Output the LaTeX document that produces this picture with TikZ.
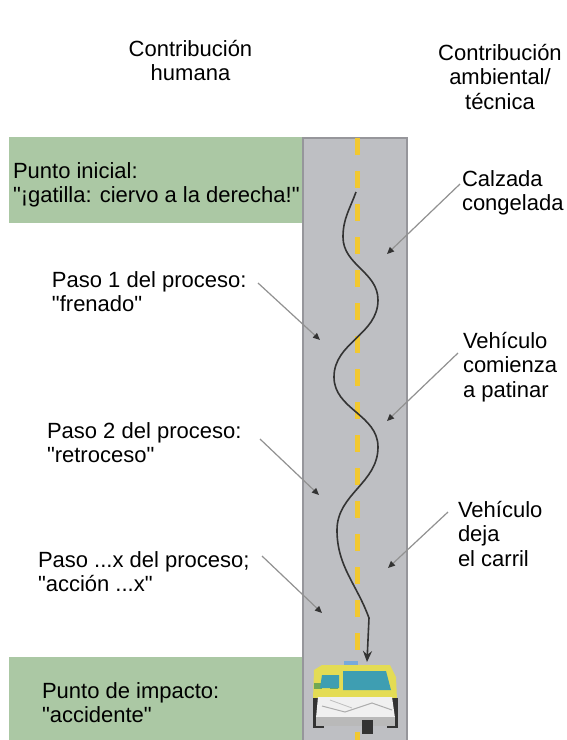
\documentclass[tikz,border=0pt]{standalone}
\usepackage{fontspec}
\setmainfont{Liberation Sans}[Ligatures=TeXOff]
\usetikzlibrary{arrows.meta}
\definecolor{roadgray}{RGB}{190,191,195}
\definecolor{roadedge}{RGB}{150,150,155}
\definecolor{boxgreen}{RGB}{171,200,164}
\definecolor{laneyellow}{RGB}{242,200,48}
\definecolor{leadgray}{RGB}{145,145,145}
\definecolor{carYellow}{RGB}{228,220,84}
\definecolor{carGreen}{RGB}{112,168,84}
\definecolor{carTeal}{RGB}{62,158,178}
\definecolor{carBlue}{RGB}{120,170,220}
\newcommand\Ltxt[1]{\vtop{\tabskip=0pt\halign{##\hfil\cr#1\crcr}}}
\newcommand\Ctxt[1]{\vtop{\tabskip=0pt\halign{\hfil##\hfil\cr#1\crcr}}}
\begin{document}
\begin{tikzpicture}[x=1pt,y=1pt,
  lbl/.style={inner sep=0pt, outer sep=0pt, font=\fontsize{22}{24.5}\selectfont, anchor=base west},
  hdr/.style={lbl, anchor=base},
  lead/.style={draw=leadgray, line width=1.2pt, -{Triangle[length=7pt,width=6pt,color=black!80]}},
  skid/.style={draw=black!80, line width=1.6pt, -{Stealth[length=11pt,width=9pt]}}
]
\useasboundingbox (0,0) rectangle (566,-740);
\fill[white] (0,0) rectangle (566,-740);

% green boxes
\fill[boxgreen] (9,-137) rectangle (302,-223);
\fill[boxgreen] (9,-657) rectangle (302,-740);

% road
\fill[roadgray] (302,-137) rectangle (408,-742);
\draw[roadedge, line width=2pt] (303,-742) -- (303,-138) -- (407,-138) -- (407,-742);
\draw[laneyellow, line width=5pt, dash pattern=on 16.5pt off 16.5pt] (357.5,-138) -- (357.5,-740);

% headers
\node[hdr] (hh) at (190.5,-56) {\Ctxt{Contribución\cr humana}};
\node[hdr] (ha) at (500,-60) {\Ctxt{Contribución\cr ambiental/\cr técnica}};

% labels
\node[lbl] (pi) at (13,-178) {\Ltxt{Punto inicial:\cr "¡gatilla: ciervo a la derecha!"}};
\node[lbl] (cc) at (462,-186) {\Ltxt{Calzada\cr congelada}};
\node[lbl] (p1) at (52,-287) {\Ltxt{Paso 1 del proceso:\cr "frenado"}};
\node[lbl] (vc) at (463,-348) {\Ltxt{Vehículo\cr comienza\cr a patinar}};
\node[lbl] (p2) at (47,-438) {\Ltxt{Paso 2 del proceso:\cr "retroceso"}};
\node[lbl] (vd) at (458,-517) {\Ltxt{Vehículo\cr deja\cr el carril}};
\node[lbl] (px) at (38,-567) {\Ltxt{Paso ...x del proceso;\cr "acción ...x"}};
\node[lbl] (pc) at (42,-698) {\Ltxt{Punto de impacto:\cr "accidente"}};

% leader coordinates
\coordinate (a1s) at (460,-184); \coordinate (a1t) at (387,-254);
\coordinate (a2s) at (258,-283); \coordinate (a2t) at (320,-340);
\coordinate (a3s) at (458,-353); \coordinate (a3t) at (387,-421);
\coordinate (a4s) at (260,-439); \coordinate (a4t) at (319,-495);
\coordinate (a5s) at (448,-512); \coordinate (a5t) at (388,-568);
\coordinate (a6s) at (262,-556); \coordinate (a6t) at (322,-613);
\draw[lead] (a1s) -- (a1t);
\draw[lead] (a2s) -- (a2t);
\draw[lead] (a3s) -- (a3t);
\draw[lead] (a4s) -- (a4t);
\draw[lead] (a5s) -- (a5t);
\draw[lead] (a6s) -- (a6t);

% skid path
\coordinate (s0) at (356,-192);
\coordinate (s1) at (343,-237);
\coordinate (s2) at (378,-300);
\coordinate (s3) at (334,-377);
\coordinate (s4) at (378,-447);
\coordinate (s5) at (337,-530);
\coordinate (s6) at (369,-618);
\coordinate (s7) at (367,-662);
\draw[skid] (s0) to[out=-110,in=90] (s1) to[out=-90,in=90] (s2)
  to[out=-90,in=90] (s3) to[out=-90,in=90] (s4) to[out=-90,in=90] (s5)
  to[out=-90,in=110] (s6) -- (s7);

% crashed car
\fill[carBlue] (344,-661) rectangle (358,-666);
\fill[carYellow] (314,-670) -- (322,-665) -- (390,-665) -- (396,-677) -- (397,-700) -- (313,-700) -- cycle;
\foreach \i in {0,...,9}{
  \pgfmathsetmacro\xx{314+8*\i}
  \ifodd\i \fill[carYellow] (\xx,-683) rectangle ++(8,-6);
  \else \fill[carGreen] (\xx,-683) rectangle ++(8,-6); \fi
}
\fill[carTeal] (343,-671) -- (386,-671) -- (391,-690) -- (343,-690) -- cycle;
\fill[carTeal] (322,-675) -- (339,-675) -- (339,-688) -- (320,-688) -- cycle;
\fill[black!80] (313,-698) rectangle (324,-728);
\fill[black!80] (387,-698) rectangle (398,-728);
\fill[gray!12] (318,-697) -- (392,-697) -- (395,-718) -- (316,-718) -- cycle;
\draw[gray!65, line width=1pt] (322,-706) -- (345,-712) -- (372,-703) -- (392,-710);
\draw[gray!50, line width=0.8pt] (330,-700) -- (352,-708);
\fill[gray!55] (316,-717) rectangle (395,-726);
\fill[black!80] (362,-720) rectangle (373,-734);
\end{tikzpicture}
\end{document}
